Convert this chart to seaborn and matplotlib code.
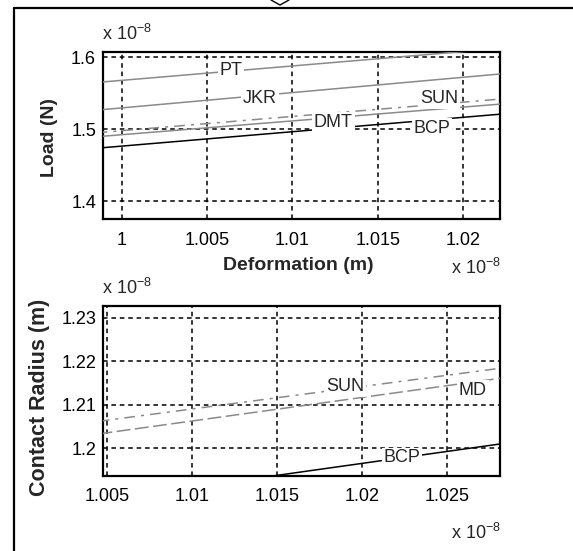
import numpy as np
import pandas as pd
import matplotlib
matplotlib.use("Agg")
import matplotlib.pyplot as plt
from matplotlib.lines import Line2D
import seaborn as sns

# ---- data (values in units of 1e-8) ----
top_x = [0.9985, 1.0225]
pt_load = [1.565, 1.613]
jkr_load = [1.5265, 1.5775]
sun_load = [1.495, 1.5425]
dmt_load = [1.4895, 1.5355]
bcp_load = [1.4735, 1.5215]

bot_x = [1.0045, 1.0285]
sun_rad = [1.2062, 1.2186]
md_rad = [1.2033, 1.2163]
bcp_rad = [1.1880, 1.2012]

top_xticks = [1.0, 1.005, 1.01, 1.015, 1.02]
top_xticklabels = ["1", "1.005", "1.01", "1.015", "1.02"]
top_yticks = [1.4, 1.5, 1.6]
top_yticklabels = ["1.4", "1.5", "1.6"]
bot_xticks = [1.005, 1.01, 1.015, 1.02, 1.025]
bot_xticklabels = ["1.005", "1.01", "1.015", "1.02", "1.025"]
bot_yticks = [1.2, 1.21, 1.22, 1.23]
bot_yticklabels = ["1.2", "1.21", "1.22", "1.23"]

sns.set_style("white")
plt.rcParams['font.family'] = ['Liberation Sans', 'DejaVu Sans']
plt.rcParams['mathtext.fontset'] = 'custom'
plt.rcParams['mathtext.rm'] = 'Liberation Sans'

fig = plt.figure(figsize=(5.73, 5.51), dpi=100)
GRAY = "#8a8a8a"
FS = 13

def build(xs, series):
    rows = []
    for name, ys in series.items():
        for x, y in zip(xs, ys):
            rows.append({"x": x, "y": y, "s": name})
    return pd.DataFrame(rows)

def style_axes(ax, xticks, xlabels, yticks, ylabels):
    ax.set_xticks(xticks)
    ax.set_xticklabels(xlabels)
    ax.set_yticks(yticks)
    ax.set_yticklabels(ylabels)
    ax.tick_params(direction="in", length=4, width=1, labelsize=FS, colors="black")
    ax.tick_params(axis="x", pad=9)
    ax.tick_params(axis="y", pad=5)
    for sp in ax.spines.values():
        sp.set_visible(True)
        sp.set_color("black")
        sp.set_linewidth(1.6)
    ax.grid(True, color="black", linestyle=(0, (3, 2.5)), linewidth=1.1)
    ax.set_axisbelow(False)

bb = dict(boxstyle="square,pad=0.1", fc="white", ec="none")

# ---- top axes ----
ax1 = fig.add_axes([0.1798, 0.6025, 0.6928, 0.3031])
df1 = build(top_x, {"PT": pt_load, "JKR": jkr_load, "SUN": sun_load,
                    "DMT": dmt_load, "BCP": bcp_load})
styles1 = {"PT": (GRAY, "-"), "JKR": (GRAY, "-"), "SUN": (GRAY, (0, (7, 4, 2, 4))),
           "DMT": (GRAY, "-"), "BCP": ("black", "-")}
for name, (c, ls) in styles1.items():
    sub = df1[df1.s == name]
    sns.lineplot(data=sub, x="x", y="y", ax=ax1, color=c, linestyle=ls, linewidth=1.1,
                 legend=False, zorder=3)
ax1.set_xlim(0.99888, 1.02218)
ax1.set_ylim(1.375, 1.6074)
style_axes(ax1, top_xticks, top_xticklabels, top_yticks, top_yticklabels)
ax1.set_xlabel("Deformation (m)", fontsize=14, fontweight="bold")
ax1.set_ylabel("Load (N)", fontsize=14, fontweight="bold")
ax1.xaxis.set_label_coords(0.491, -0.228)
ax1.yaxis.set_label_coords(-0.113, 0.49)
for txt, x, y in [("PT", 1.0064, 1.581), ("JKR", 1.0081, 1.543), ("SUN", 1.0186, 1.543),
                  ("DMT", 1.0124, 1.510), ("BCP", 1.0182, 1.5015)]:
    ax1.text(x, y, txt, fontsize=FS, ha="center", va="center", bbox=bb, zorder=5)

# ---- bottom axes ----
ax2 = fig.add_axes([0.1798, 0.1367, 0.6928, 0.3085])
df2 = build(bot_x, {"SUN": sun_rad, "MD": md_rad, "BCP": bcp_rad})
styles2 = {"SUN": (GRAY, (0, (7, 4, 2, 4))), "MD": (GRAY, (0, (9, 3))), "BCP": ("black", "-")}
for name, (c, ls) in styles2.items():
    sub = df2[df2.s == name]
    sns.lineplot(data=sub, x="x", y="y", ax=ax2, color=c, linestyle=ls, linewidth=1.1,
                 legend=False, zorder=3)
ax2.set_xlim(1.00476, 1.02812)
ax2.set_ylim(1.1937, 1.2328)
style_axes(ax2, bot_xticks, bot_xticklabels, bot_yticks, bot_yticklabels)
ax2.set_xlabel("")
ax2.set_ylabel("Contact Radius (m)", fontsize=15.5, fontweight="bold")
ax2.yaxis.set_label_coords(-0.133, 0.463)
for txt, x, y in [("SUN", 1.0190, 1.2142), ("MD", 1.02653, 1.2134), ("BCP", 1.02235, 1.1978)]:
    ax2.text(x, y, txt, fontsize=FS, ha="center", va="center", bbox=bb, zorder=5)

# ---- exponent labels ----
exp = r"x 10$^{\mathregular{-8}}$"
fig.text(102/573, 1 - 34/551, exp, fontsize=13, ha="left", va="center")
fig.text(501/573, 1 - 268/551, exp, fontsize=13, ha="right", va="center")
fig.text(102/573, 1 - 288/551, exp, fontsize=13, ha="left", va="center")
fig.text(501/573, 1 - 533/551, exp, fontsize=13, ha="right", va="center")

# ---- outer frame ----
fig.add_artist(Line2D([14/573, 14/573], [0, 1 - 8/551], color="black", lw=1.6,
                      transform=fig.transFigure))
fig.add_artist(Line2D([14/573, 1], [1 - 8/551, 1 - 8/551], color="black", lw=1.6,
                      transform=fig.transFigure))
fig.add_artist(Line2D([271/573, 280/573, 289/573], [1.0, 1 - 5/551, 1.0], color="black",
                      lw=1.0, transform=fig.transFigure))

fig.savefig("out.png", dpi=100)
